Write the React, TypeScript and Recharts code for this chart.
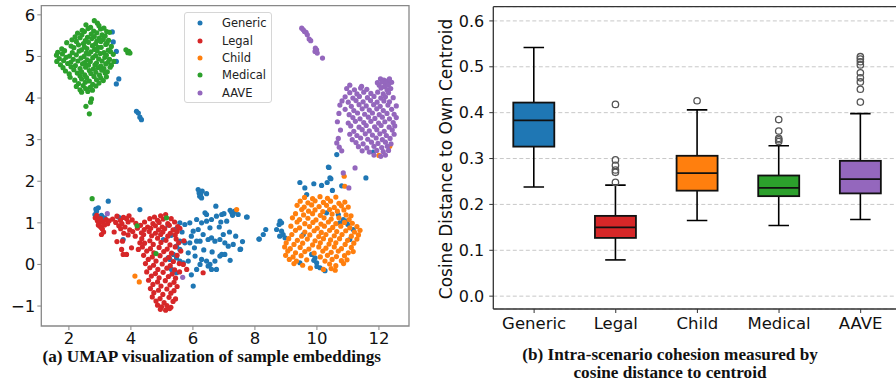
import {
  ScatterChart,
  Scatter,
  ComposedChart,
  Bar,
  XAxis,
  YAxis,
  CartesianGrid,
  ReferenceArea,
  ReferenceLine,
} from 'recharts';

// ---------- (a) UMAP scatter ----------
const UMAP_X_DOMAIN: [number, number] = [1.11, 12.97];
const UMAP_Y_DOMAIN: [number, number] = [-1.48, 6.22];
const UMAP_X_TICKS = [2, 4, 6, 8, 10, 12];
const UMAP_Y_TICKS = [-1, 0, 1, 2, 3, 4, 5, 6];

const GENERIC_PTS: [number, number][] = [
  [3.4, 5.59], [3.43, 5.35], [3.53, 5.12], [3.53, 4.88], [3.61, 4.46], [3.53, 4.34],
  [4.18, 3.68], [4.24, 3.64], [4.29, 3.54], [4.34, 3.48],
  [2.84, 1.2], [2.95, 1.36], [2.89, 1.28], [2.87, 1.33], [3.27, 1.52], [2.92, 1.14], [3.05, 1.18],
  [3.15, 1.12], [4.29, 1.32], [3.75, 0.6], [3.6, 1.14],
  [6.17, 1.8], [6.2, 1.72], [6.25, 1.68], [6.3, 1.76], [6.22, 1.64], [6.44, 1.7], [6.28, 1.6],
  [7.0, 1.22], [7.2, 1.3], [7.25, 1.25], [7.3, 1.22], [7.35, 1.28], [7.28, 1.18], [7.46, 1.2],
  [7.73, 1.14], [8.14, 0.61],
  [5.58, 1.0], [5.74, 0.96], [5.9, 1.0], [6.12, 1.08], [6.28, 1.0], [6.44, 1.04], [6.6, 1.08],
  [6.76, 1.16], [6.93, 1.2], [7.09, 1.04], [6.44, 1.2], [6.74, 1.4], [6.39, 1.24], [6.01, 0.8],
  [6.17, 0.84], [6.33, 0.72], [6.49, 0.6], [6.6, 0.64], [6.71, 0.56], [6.87, 0.6], [7.03, 0.52],
  [7.14, 0.44], [7.3, 0.48], [7.52, 0.36], [6.98, 0.72], [6.23, 0.56], [5.47, 0.44], [5.58, 0.56],
  [5.74, 0.52], [5.9, 0.52], [6.12, 0.56], [5.85, 0.28], [6.07, 0.2], [6.28, 0.12], [6.44, 0.08],
  [6.55, 0.0], [6.71, 0.08], [6.87, 0.2], [6.93, 0.24], [7.03, 0.24], [6.76, -0.12], [6.6, -0.12],
  [6.49, -0.04], [5.26, 0.12], [5.37, 0.24], [5.2, 0.16], [5.47, 0.16], [5.58, 0.08], [5.69, 0.04],
  [5.85, 0.08], [6.01, -0.52], [6.23, 0.0], [6.12, -0.12], [5.58, 0.36], [5.47, -0.2], [5.31, -0.12],
  [5.3, 0.7], [5.45, 0.85], [5.65, 0.78], [5.95, 0.68], [6.55, 0.88], [6.85, 0.9], [7.18, 0.78],
  [7.38, 0.68], [6.35, 0.35], [6.62, 0.3], [7.2, 0.1], [5.95, -0.25], [6.05, 0.4], [5.2, 0.95],
  [5.05, 0.6], [6.9, 1.02], [7.6, 0.55],
  [8.81, 1.04], [8.86, 1.0], [8.78, 0.96], [8.7, 0.84], [8.86, 0.8], [8.91, 0.72], [8.97, 0.64],
  [8.8, 0.68], [8.35, 0.84], [8.27, 0.72], [8.13, 0.61], [7.75, 1.14], [7.54, 0.37],
  [10.37, 2.34], [9.45, 1.97], [9.61, 1.84], [9.9, 1.94], [10.15, 1.9], [10.33, 1.97], [10.42, 2.08],
  [10.8, 1.89], [11.58, 2.08], [9.67, 1.68], [10.64, 2.64], [11.82, 2.7], [10.39, 2.33], [10.45, 2.06],
  [10.5, 1.78],
  [9.83, 0.24], [9.94, 0.16], [9.99, 0.04], [10.1, -0.08], [10.26, -0.15], [9.45, 0.04], [9.56, 0.72],
  [10.69, 1.2], [10.85, 1.08], [10.96, 1.04], [11.17, 0.84], [11.0, 0.96], [10.74, 1.0], [10.31, 1.24],
  [11.06, 0.6], [10.0, -0.05], [9.9, 0.1],
];

const LEGAL_PTS: [number, number][] = [
  [2.85, 1.12], [2.92, 1.05], [2.98, 1.0], [3.0, 0.92], [3.05, 0.88], [2.95, 0.95], [3.1, 1.02],
  [3.08, 0.85], [3.15, 0.95], [3.2, 1.08], [3.25, 0.98], [3.02, 1.1], [3.12, 0.78], [2.9, 1.18],
  [3.3, 1.05], [3.05, 0.72],
  [3.55, 1.16], [3.76, 1.13], [3.94, 1.17], [4.76, 1.14], [4.96, 1.17], [5.12, 1.2],
  [3.41, 1.09], [3.66, 1.06], [3.86, 1.1], [4.04, 1.07], [4.61, 1.1], [4.86, 1.06], [5.04, 1.09], [5.3, 1.1],
  [3.51, 1.01], [3.71, 0.98], [3.91, 1.02], [4.16, 0.99], [4.44, 1.02], [4.71, 0.98], [4.91, 1.01],
  [5.19, 0.98], [5.41, 1.02],
  [3.61, 0.93], [3.81, 0.9], [4.31, 0.94], [4.54, 0.9], [4.79, 0.93], [5.01, 0.9], [5.24, 0.94], [5.51, 0.91],
  [3.67, 0.86], [3.96, 0.83], [4.21, 0.87], [4.43, 0.84], [4.64, 0.87], [4.89, 0.83], [5.09, 0.86],
  [5.36, 0.83], [5.58, 0.87],
  [3.46, 0.78], [3.77, 0.75], [4.06, 0.79], [4.34, 0.76], [4.59, 0.79], [4.79, 0.75], [5.03, 0.78],
  [5.27, 0.75], [5.49, 0.79],
  [3.91, 0.71], [4.14, 0.68], [4.41, 0.72], [4.67, 0.69], [4.96, 0.72], [5.19, 0.68], [5.43, 0.71],
  [3.7, 0.36], [3.75, 0.24], [3.86, 0.24], [4.02, 0.4], [3.73, 0.56], [4.24, 0.36], [4.29, 0.52], [3.55, 0.55],
  [4.35, 0.62], [4.61, 0.57], [4.86, 0.63], [5.13, 0.58], [5.46, 0.61], [5.71, 0.57],
  [4.44, 0.51], [4.72, 0.48], [4.97, 0.53], [5.26, 0.47], [5.54, 0.52],
  [4.37, 0.42], [4.63, 0.38], [4.91, 0.41], [5.17, 0.37], [5.43, 0.42],
  [4.51, 0.32], [4.74, 0.28], [5.06, 0.31], [5.31, 0.27], [5.61, 0.32],
  [4.41, 0.22], [4.69, 0.18], [4.94, 0.21], [5.23, 0.17], [5.49, 0.22],
  [4.56, 0.12], [4.81, 0.08], [5.11, 0.11], [5.37, 0.07],
  [4.47, 0.02], [4.73, -0.02], [5.01, 0.01], [5.27, -0.03], [5.56, 0.02], [5.69, 0.0],
  [4.61, -0.08], [4.87, -0.12], [5.16, -0.09], [5.41, -0.13], [5.8, -0.12],
  [4.51, -0.18], [4.79, -0.22], [5.04, -0.19], [5.33, -0.23], [5.57, -0.18],
  [4.66, -0.28], [4.91, -0.32], [5.21, -0.29], [5.44, -0.33],
  [4.57, -0.38], [4.86, -0.42], [5.11, -0.39], [5.39, -0.43],
  [4.71, -0.48], [4.97, -0.52], [5.26, -0.49], [5.49, -0.53],
  [4.63, -0.58], [4.89, -0.62], [5.16, -0.59], [5.39, -0.63],
  [4.74, -0.68], [5.03, -0.72], [5.29, -0.69],
  [4.69, -0.78], [4.94, -0.82], [5.23, -0.79], [5.44, -0.83],
  [4.81, -0.88], [5.07, -0.92], [5.36, -0.89],
  [4.86, -0.98], [4.99, -1.02], [5.16, -0.99], [5.29, -1.03],
  [4.95, -1.08], [5.12, -1.1], [5.25, -1.06],
  [6.33, -0.2],
];

const CHILD_PTS: [number, number][] = [
  [9.6, 1.61], [9.86, 1.58], [10.1, 1.63], [10.34, 1.59], [10.61, 1.62],
  [9.46, 1.52], [9.71, 1.48], [9.94, 1.53], [10.21, 1.49], [10.44, 1.52], [10.71, 1.47], [10.9, 1.5],
  [9.36, 1.42], [9.59, 1.38], [9.83, 1.43], [10.07, 1.39], [10.31, 1.42], [10.56, 1.37], [10.79, 1.41], [11.01, 1.38],
  [9.51, 1.32], [9.73, 1.28], [9.94, 1.31], [10.19, 1.27], [10.41, 1.32], [10.66, 1.28], [10.87, 1.31],
  [9.31, 1.22], [9.57, 1.19], [9.86, 1.22], [10.11, 1.18], [10.49, 1.21], [10.94, 1.19], [11.1, 1.17],
  [9.21, 1.12], [9.44, 1.08], [9.71, 1.11], [9.97, 1.07], [10.23, 1.12], [10.46, 1.09], [10.71, 1.12], [11.04, 1.08],
  [9.36, 1.02], [9.61, 0.98], [9.87, 1.01], [10.13, 0.97], [10.37, 1.02], [10.61, 0.98], [10.89, 1.01], [11.14, 0.99],
  [9.16, 0.92], [9.44, 0.88], [9.76, 0.91], [10.01, 0.87], [10.24, 0.92], [10.51, 0.89], [10.77, 0.92],
  [11.06, 0.88], [11.29, 0.91],
  [9.31, 0.82], [9.61, 0.78], [9.91, 0.81], [10.14, 0.77], [10.41, 0.82], [10.64, 0.79], [10.93, 0.81],
  [11.21, 0.78], [11.39, 0.82],
  [9.19, 0.72], [9.51, 0.68], [9.77, 0.71], [10.06, 0.67], [10.29, 0.72], [10.56, 0.69], [10.81, 0.72],
  [11.11, 0.68], [11.34, 0.71],
  [9.09, 0.62], [9.37, 0.58], [9.69, 0.61], [9.94, 0.57], [10.21, 0.62], [10.44, 0.59], [10.73, 0.62],
  [10.99, 0.58], [11.29, 0.61],
  [9.01, 0.52], [9.26, 0.48], [9.54, 0.51], [9.86, 0.47], [10.11, 0.52], [10.39, 0.49], [10.61, 0.52],
  [10.91, 0.48], [11.19, 0.51],
  [8.96, 0.42], [9.14, 0.38], [9.46, 0.41], [9.74, 0.37], [10.06, 0.42], [10.29, 0.39], [10.56, 0.42],
  [10.79, 0.38], [11.11, 0.41],
  [9.06, 0.32], [9.31, 0.28], [9.61, 0.31], [9.91, 0.27], [10.19, 0.32], [10.46, 0.29], [10.69, 0.32],
  [11.01, 0.28], [11.17, 0.31],
  [8.99, 0.22], [9.23, 0.18], [9.49, 0.21], [10.11, 0.18], [10.34, 0.22], [10.63, 0.19], [10.89, 0.21],
  [9.11, 0.12], [9.34, 0.08], [9.67, 0.11], [10.26, 0.08], [10.49, 0.12], [10.79, 0.09], [10.97, 0.11],
  [9.26, 0.02], [9.54, -0.02], [10.41, 0.01], [10.61, -0.03], [10.86, 0.02],
  [9.79, -0.09], [10.21, -0.12], [10.46, -0.1], [10.59, -0.14],
  [10.9, 1.88], [7.41, 1.32], [4.13, -0.28], [4.27, -0.42], [12.35, 2.84], [12.0, 2.62], [10.88, 2.12],
];

const MEDICAL_PTS: [number, number][] = [
  [2.82, 5.86], [2.55, 5.76], [2.92, 5.8], [2.7, 5.7], [2.97, 5.74], [3.13, 5.68],
  [2.43, 5.63], [2.62, 5.67], [2.8, 5.61], [3.02, 5.66], [3.22, 5.6],
  [2.28, 5.56], [2.5, 5.6], [2.72, 5.54], [2.9, 5.57], [3.07, 5.52], [3.31, 5.58],
  [2.2, 5.47], [2.42, 5.52], [2.6, 5.46], [2.82, 5.48], [2.98, 5.44], [3.17, 5.49],
  [2.1, 5.4], [2.36, 5.45], [2.53, 5.38], [2.74, 5.43], [2.9, 5.37], [3.11, 5.41], [3.28, 5.39],
  [1.93, 5.33], [2.24, 5.36], [2.47, 5.31], [2.63, 5.34], [2.86, 5.3], [3.03, 5.36], [3.23, 5.32],
  [2.07, 5.25], [2.31, 5.28], [2.5, 5.23], [2.76, 5.26], [2.94, 5.22], [3.19, 5.29], [3.37, 5.24],
  [1.77, 5.18], [2.16, 5.21], [2.41, 5.16], [2.58, 5.19], [2.83, 5.17], [3.04, 5.22], [3.27, 5.15],
  [1.64, 5.1], [1.86, 5.14], [2.11, 5.09], [2.33, 5.13], [2.56, 5.08], [2.71, 5.11], [2.91, 5.14],
  [3.13, 5.09], [3.34, 5.12],
  [1.6, 5.03], [1.79, 5.06], [2.02, 5.01], [2.24, 5.04], [2.49, 5.0], [2.64, 5.06], [2.86, 5.02],
  [3.01, 5.07], [3.21, 5.03], [3.43, 5.05],
  [1.69, 4.95], [1.91, 4.98], [2.14, 4.93], [2.39, 4.96], [2.59, 4.92], [2.77, 4.97], [2.96, 4.94],
  [3.16, 4.98], [3.31, 4.93],
  [1.61, 4.88], [1.83, 4.9], [2.06, 4.86], [2.29, 4.89], [2.51, 4.85], [2.69, 4.88], [2.89, 4.84],
  [3.07, 4.89], [3.26, 4.86], [3.45, 4.88],
  [1.73, 4.8], [1.96, 4.83], [2.21, 4.78], [2.44, 4.82], [2.63, 4.79], [2.84, 4.8], [3.03, 4.77],
  [3.19, 4.82], [3.37, 4.79],
  [1.81, 4.73], [2.07, 4.75], [2.36, 4.71], [2.54, 4.74], [2.79, 4.7], [2.94, 4.73], [3.13, 4.71], [3.33, 4.74],
  [1.89, 4.65], [2.16, 4.68], [2.41, 4.63], [2.66, 4.66], [2.87, 4.62], [3.06, 4.67], [3.24, 4.63],
  [2.01, 4.58], [2.27, 4.6], [2.51, 4.56], [2.71, 4.59], [2.99, 4.55], [3.17, 4.6],
  [2.04, 4.5], [2.36, 4.53], [2.57, 4.49], [2.81, 4.52], [3.03, 4.48], [3.21, 4.51],
  [2.19, 4.43], [2.41, 4.46], [2.66, 4.41], [2.89, 4.44], [3.11, 4.42],
  [2.31, 4.35], [2.53, 4.38], [2.77, 4.33], [2.97, 4.36],
  [2.24, 4.28], [2.46, 4.3], [2.69, 4.26], [2.87, 4.29],
  [2.36, 4.2], [2.54, 4.23], [2.76, 4.19],
  [2.41, 4.14], [2.61, 4.16],
  [2.55, 3.8], [2.66, 3.62], [2.73, 3.98], [2.7, 3.9],
  [3.84, 5.16], [3.9, 5.09], [3.97, 5.08], [3.93, 5.12],
  [2.75, 1.58], [4.2, 0.93], [5.15, 1.12], [4.81, 0.26],
];

const AAVE_PTS: [number, number][] = [
  [9.51, 5.68], [9.56, 5.64], [9.6, 5.6], [9.65, 5.58], [9.69, 5.52], [9.75, 5.42], [9.8, 5.38],
  [9.94, 5.12], [9.95, 5.2], [9.99, 5.16], [10.01, 5.08], [10.18, 4.96],
  [12.05, 4.46], [12.16, 4.43], [12.25, 4.41], [12.34, 4.46],
  [11.95, 4.37], [12.11, 4.39], [12.21, 4.36], [12.33, 4.35], [12.41, 4.38],
  [11.06, 4.31], [11.44, 4.28], [12.01, 4.31], [12.18, 4.28], [12.29, 4.31],
  [10.96, 4.23], [11.21, 4.2], [11.41, 4.24], [11.61, 4.21], [12.07, 4.24], [12.26, 4.2], [12.38, 4.23],
  [11.06, 4.13], [11.29, 4.1], [11.51, 4.14], [11.74, 4.11], [11.96, 4.14], [12.14, 4.1], [12.31, 4.13],
  [10.91, 4.03], [11.16, 4.0], [11.37, 4.04], [11.63, 4.01], [11.84, 4.04], [12.06, 4.0], [12.21, 4.03], [12.46, 4.01],
  [10.81, 3.93], [11.01, 3.9], [11.26, 3.94], [11.49, 3.91], [11.73, 3.94], [11.94, 3.9], [12.16, 3.93], [12.34, 3.91],
  [10.74, 3.83], [11.11, 3.8], [11.36, 3.84], [11.59, 3.81], [11.83, 3.84], [12.04, 3.8], [12.29, 3.83], [12.56, 3.81],
  [10.91, 3.73], [11.19, 3.7], [11.46, 3.74], [11.69, 3.71], [11.93, 3.74], [12.14, 3.7], [12.41, 3.73],
  [10.71, 3.63], [11.04, 3.6], [11.31, 3.64], [11.54, 3.61], [11.79, 3.64], [12.01, 3.6], [12.26, 3.63], [12.49, 3.61],
  [11.16, 3.53], [11.39, 3.5], [11.66, 3.54], [11.87, 3.51], [12.11, 3.54], [12.34, 3.5], [12.56, 3.53],
  [10.66, 3.43], [11.01, 3.4], [11.24, 3.44], [11.51, 3.41], [11.74, 3.44], [11.99, 3.4], [12.19, 3.43], [12.46, 3.41],
  [11.09, 3.33], [11.36, 3.3], [11.59, 3.34], [11.86, 3.31], [12.07, 3.34], [12.33, 3.3], [12.51, 3.33],
  [10.76, 3.23], [11.19, 3.2], [11.46, 3.24], [11.69, 3.21], [11.93, 3.24], [12.17, 3.2], [12.43, 3.23],
  [11.06, 3.13], [11.29, 3.1], [11.56, 3.14], [11.79, 3.11], [12.03, 3.14], [12.24, 3.1], [12.49, 3.13],
  [10.69, 3.03], [11.14, 3.0], [11.41, 3.04], [11.64, 3.01], [11.91, 3.04], [12.11, 3.0], [12.36, 3.03],
  [11.26, 2.93], [11.49, 2.9], [11.76, 2.94], [11.97, 2.91], [12.21, 2.94], [12.39, 2.9],
  [11.34, 2.83], [11.61, 2.8], [11.84, 2.84], [12.09, 2.81], [12.27, 2.84],
  [11.46, 2.73], [11.69, 2.7], [11.93, 2.74], [12.14, 2.71], [12.31, 2.74],
  [11.84, 2.63], [12.06, 2.6], [12.21, 2.63],
  [10.64, 2.92], [10.8, 2.73], [10.72, 2.82], [10.85, 2.2], [11.23, 2.32], [11.03, 1.84],
  [3.24, 1.22], [5.67, -0.31],
];

// ---------- (b) cohesion box plot ----------
const CATEGORIES = ['Generic', 'Legal', 'Child', 'Medical', 'AAVE'];
const WHISKER_LOW = [0.238, 0.079, 0.165, 0.154, 0.167];
const Q1 = [0.326, 0.127, 0.23, 0.218, 0.224];
const MEDIAN = [0.383, 0.15, 0.268, 0.236, 0.255];
const Q3 = [0.422, 0.175, 0.306, 0.263, 0.295];
const WHISKER_HIGH = [0.542, 0.242, 0.406, 0.328, 0.398];
const OUTLIERS = [
  [],
  [0.418, 0.297, 0.285, 0.275, 0.27, 0.248],
  [0.426],
  [0.385, 0.36, 0.344, 0.341, 0.337],
  [0.522, 0.517, 0.511, 0.504, 0.487, 0.476, 0.467, 0.451, 0.423],
];
const BOX_Y_DOMAIN: [number, number] = [-0.028, 0.631];
const BOX_Y_TICKS = [0, 0.1, 0.2, 0.3, 0.4, 0.5, 0.6];

const COLORS: Record<string, string> = {
  Generic: '#1f77b4',
  Legal: '#d62728',
  Child: '#ff7f0e',
  Medical: '#2ca02c',
  AAVE: '#9467bd',
};

const FONT = "'DejaVu Sans', sans-serif";
const SERIF = "'Liberation Serif', 'Times New Roman', serif";

const toXY = (pts: [number, number][]) => pts.map(([x, y]) => ({ x, y }));

const SERIES = [
  { name: 'Generic', pts: GENERIC_PTS },
  { name: 'Legal', pts: LEGAL_PTS },
  { name: 'Child', pts: CHILD_PTS },
  { name: 'Medical', pts: MEDICAL_PTS },
  { name: 'AAVE', pts: AAVE_PTS },
];

const boxData = CATEGORIES.map((name, i) => ({
  name,
  range: [WHISKER_LOW[i], WHISKER_HIGH[i]],
  q1: Q1[i],
  median: MEDIAN[i],
  q3: Q3[i],
  outliers: OUTLIERS[i],
}));

const dot = (color: string) => (props: any) =>
  <circle cx={props.cx} cy={props.cy} r={2.6} fill={color} />;

// draws whole box + whiskers + outliers from the range bar's pixel geometry
const BoxShape = (props: any) => {
  const { x, y, width, height, payload } = props;
  const [lo, hi] = payload.range;
  const top = Math.min(y, y + height);
  const h = Math.abs(height);
  const k = h / (hi - lo);
  const py = (v: number) => top + (hi - v) * k;
  const cx = x + width / 2;
  const capW = width / 2;
  const color = COLORS[payload.name];
  return (
    <g>
      <line x1={cx} x2={cx} y1={py(hi)} y2={py(payload.q3)} stroke="#000" strokeWidth={1.6} />
      <line x1={cx} x2={cx} y1={py(payload.q1)} y2={py(lo)} stroke="#000" strokeWidth={1.6} />
      <line x1={cx - capW / 2} x2={cx + capW / 2} y1={py(hi)} y2={py(hi)} stroke="#000" strokeWidth={1.6} />
      <line x1={cx - capW / 2} x2={cx + capW / 2} y1={py(lo)} y2={py(lo)} stroke="#000" strokeWidth={1.6} />
      <rect
        x={x}
        y={py(payload.q3)}
        width={width}
        height={py(payload.q1) - py(payload.q3)}
        fill={color}
        stroke="#111"
        strokeWidth={1.8}
      />
      <line x1={x} x2={x + width} y1={py(payload.median)} y2={py(payload.median)} stroke="#111" strokeWidth={1.8} />
      {payload.outliers.map((v: number, j: number) => (
        <circle key={j} cx={cx} cy={py(v)} r={3.2} fill="none" stroke="#555" strokeWidth={1.3} />
      ))}
    </g>
  );
};

const fmtMinus = (v: number) => (v < 0 ? `\u2212${Math.abs(v)}` : `${v}`);

function UmapPanel() {
  return (
    <ScatterChart width={420} height={381} margin={{ top: 5.7, right: 11, left: 0, bottom: 30 }}>
      <XAxis
        type="number"
        dataKey="x"
        domain={UMAP_X_DOMAIN}
        ticks={UMAP_X_TICKS}
        allowDataOverflow
        axisLine={false}
        tickSize={4}
        tickMargin={2}
        height={25}
        tickLine={{ stroke: '#888' }}
        tick={{ fill: '#111', fontSize: 16.5, fontFamily: FONT }}
      />
      <YAxis
        type="number"
        dataKey="y"
        domain={UMAP_Y_DOMAIN}
        ticks={UMAP_Y_TICKS}
        allowDataOverflow
        axisLine={false}
        width={41.3}
        tickSize={4}
        tickMargin={2}
        tickFormatter={fmtMinus}
        tickLine={{ stroke: '#888' }}
        tick={{ fill: '#111', fontSize: 16.5, fontFamily: FONT }}
      />
      {SERIES.map((s) => (
        <Scatter
          key={s.name}
          name={s.name}
          data={toXY(s.pts)}
          fill={COLORS[s.name]}
          shape={dot(COLORS[s.name])}
          isAnimationActive={false}
        />
      ))}
      <ReferenceArea
        x1={UMAP_X_DOMAIN[0]}
        x2={UMAP_X_DOMAIN[1]}
        y1={UMAP_Y_DOMAIN[0]}
        y2={UMAP_Y_DOMAIN[1]}
        fill="none"
        fillOpacity={0}
        stroke="#888"
        strokeWidth={1.3}
        ifOverflow="visible"
      />
    </ScatterChart>
  );
}

function CohesionPanel() {
  return (
    <ComposedChart
      width={490}
      height={381}
      data={boxData}
      margin={{ top: 6.7, right: 8.5, left: 0, bottom: 42 }}
    >
      <CartesianGrid vertical={false} stroke="#c8c8c8" strokeDasharray="4 2.5" />
      <XAxis
        dataKey="name"
        type="category"
        height={30}
        tickSize={4}
        tickMargin={4.5}
        axisLine={{ stroke: '#333', strokeWidth: 1.3 }}
        tickLine={{ stroke: '#333' }}
        tick={{ fill: '#111', fontSize: 16.5, fontFamily: FONT }}
      />
      <YAxis
        type="number"
        domain={BOX_Y_DOMAIN}
        ticks={BOX_Y_TICKS}
        allowDataOverflow
        width={73.3}
        tickSize={4}
        tickMargin={5}
        tickFormatter={(v: number) => v.toFixed(1)}
        axisLine={{ stroke: '#333', strokeWidth: 1.3 }}
        tickLine={{ stroke: '#333' }}
        tick={{ fill: '#111', fontSize: 16, fontFamily: FONT }}
      />
      <ReferenceLine y={BOX_Y_DOMAIN[1]} stroke="#333" strokeWidth={1.3} ifOverflow="visible" />
      <Bar dataKey="range" barSize={41} shape={BoxShape} isAnimationActive={false} />
    </ComposedChart>
  );
}

const captionStyle = {
  position: 'absolute' as const,
  transform: 'translate(-50%, -50%)',
  whiteSpace: 'nowrap' as const,
  fontFamily: SERIF,
  fontWeight: 'bold' as const,
  fontSize: 17.2,
  lineHeight: '13px',
  color: '#111',
};

export default function App() {
  return (
    <div
      style={{
        position: 'absolute',
        left: 0,
        top: 0,
        width: 896,
        height: 381,
        overflow: 'hidden',
        background: '#fff',
        fontFamily: FONT,
      }}
    >
      <div style={{ position: 'absolute', left: 0, top: 0 }}>
        <UmapPanel />
      </div>
      <div
        style={{
          position: 'absolute',
          left: 184,
          top: 11.5,
          width: 86,
          height: 89,
          border: '1px solid #d6d6d6',
          borderRadius: 3,
          background: 'rgba(255,255,255,0.85)',
        }}
      >
        {SERIES.map((s, i) => (
          <div
            key={s.name}
            style={{
              position: 'absolute',
              left: 0,
              top: 10.8 + i * 17.35 - 8,
              height: 16,
              width: 86,
            }}
          >
            <svg width={10} height={16} style={{ position: 'absolute', left: 10, top: 0 }}>
              <circle cx={5} cy={8} r={2.5} fill={COLORS[s.name]} />
            </svg>
            <span
              style={{
                position: 'absolute',
                left: 37,
                top: 0,
                lineHeight: '16px',
                fontSize: 11.5,
                color: '#222',
                whiteSpace: 'nowrap',
              }}
            >
              {s.name}
            </span>
          </div>
        ))}
      </div>
      <div style={{ ...captionStyle, left: 211.7, top: 355.5 }}>
        (a) UMAP visualization of sample embeddings
      </div>

      <div style={{ position: 'absolute', left: 420, top: 0 }}>
        <CohesionPanel />
      </div>
      <div
        style={{
          position: 'absolute',
          left: 445.5,
          top: 158.5,
          transform: 'translate(-50%, -50%) rotate(-90deg)',
          whiteSpace: 'nowrap',
          fontSize: 17,
          color: '#111',
        }}
      >
        Cosine Distance to Own Centroid
      </div>
      <div style={{ ...captionStyle, left: 670, top: 354 }}>
        (b) Intra-scenario cohesion measured by
      </div>
      <div style={{ ...captionStyle, left: 670, top: 372 }}>
        cosine distance to centroid
      </div>
    </div>
  );
}
